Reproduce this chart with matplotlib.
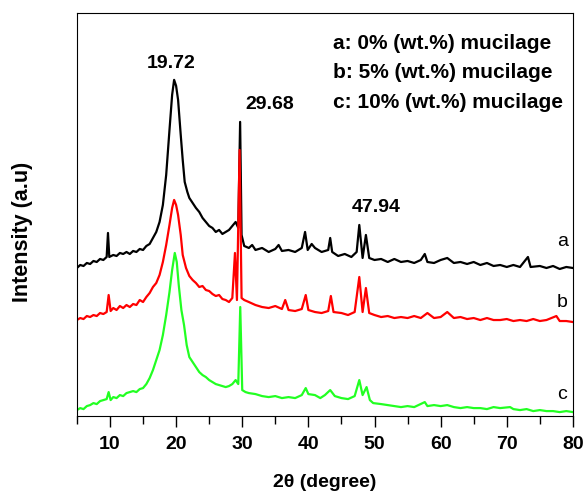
import matplotlib
matplotlib.use("Agg")
import matplotlib.pyplot as plt
from matplotlib.ticker import MultipleLocator

plt.rcParams['font.family'] = ['Liberation Sans', 'DejaVu Sans']

# --- data (intensity in arbitrary units, offsets included) ---
two_theta_a = [5.0, 5.5, 6.0, 6.5, 7.0, 7.5, 8.0, 8.5, 9.0, 9.5,
               9.7, 9.9, 10.5, 11.0, 11.5, 12.0, 12.5, 13.0, 13.5, 14.0,
               14.5, 15.0, 15.5, 16.0, 16.5, 17.0, 17.5, 18.0, 18.5, 19.0,
               19.4, 19.7, 20.0, 20.3, 20.7, 21.0, 21.3, 21.7, 22.0, 22.5,
               23.0, 23.5, 24.0, 24.5, 25.0, 25.5, 26.0, 26.5, 27.0, 27.5,
               28.0, 28.5, 29.0, 29.4, 29.68, 29.9, 30.3, 31.0, 31.5, 32.0,
               33.0, 34.0, 35.0, 35.5, 36.0, 37.0, 38.0, 39.0, 39.5, 39.9,
               40.5, 41.0, 42.0, 43.0, 43.3, 43.6, 44.5, 45.5, 46.5, 47.3,
               47.7, 48.2, 48.7, 49.2, 50.0, 51.0, 52.0, 53.0, 54.0, 55.0,
               56.0, 57.0, 57.6, 58.0, 59.0, 60.0, 61.0, 62.0, 63.0, 64.0,
               65.0, 66.0, 67.0, 68.0, 69.0, 70.0, 71.0, 72.0, 73.2, 73.6,
               75.0, 76.0, 77.0, 78.0, 79.0, 80.0]
intensity_a = [148, 151, 150, 153, 152, 155, 154, 157, 156, 159,
               183, 159, 161, 160, 163, 162, 164, 162, 165, 164,
               167, 166, 170, 172, 178, 184, 194, 211, 241, 286,
               321, 336, 330, 316, 281, 256, 234, 224, 218, 213,
               208, 204, 198, 194, 190, 188, 184, 186, 182, 184,
               186, 190, 194, 188, 294, 181, 170, 168, 171, 166,
               168, 164, 167, 171, 165, 166, 164, 168, 184, 166,
               172, 168, 164, 166, 178, 164, 160, 162, 159, 164,
               191, 158, 181, 158, 156, 157, 154, 157, 154, 155,
               153, 156, 162, 154, 153, 156, 158, 153, 154, 152,
               154, 151, 153, 150, 151, 149, 151, 149, 159, 149,
               150, 148, 150, 147, 149, 148]

two_theta_b = [5.0, 5.5, 6.0, 6.5, 7.0, 7.5, 8.0, 8.5, 9.0, 9.5,
               9.8, 10.1, 10.5, 11.0, 11.5, 12.0, 12.5, 13.0, 13.5, 14.0,
               14.5, 15.0, 15.5, 16.0, 16.5, 17.0, 17.5, 18.0, 18.5, 19.0,
               19.4, 19.7, 20.0, 20.3, 20.7, 21.0, 21.5, 22.0, 22.5, 23.0,
               23.5, 24.0, 24.5, 25.0, 25.5, 26.0, 26.5, 27.0, 27.5, 28.0,
               28.5, 28.9, 29.2, 29.6, 29.9, 30.3, 31.0, 32.0, 33.0, 34.0,
               35.0, 36.0, 36.5, 37.0, 38.0, 39.0, 39.6, 40.0, 41.0, 42.0,
               43.0, 43.4, 43.8, 45.0, 46.0, 47.0, 47.7, 48.2, 48.7, 49.2,
               50.0, 51.0, 52.0, 53.0, 54.0, 55.0, 56.0, 57.0, 58.0, 59.0,
               60.0, 61.0, 62.0, 63.0, 64.0, 65.0, 66.0, 67.0, 68.0, 69.0,
               70.0, 71.0, 72.0, 73.0, 74.0, 75.0, 76.0, 77.5, 78.0, 79.0,
               80.0]
intensity_b = [96, 98, 97, 100, 99, 101, 100, 103, 102, 104,
               121, 105, 108, 106, 110, 108, 111, 109, 112, 111,
               116, 114, 119, 123, 129, 133, 141, 154, 171, 191,
               208, 216, 211, 201, 181, 161, 148, 140, 136, 133,
               129, 130, 126, 125, 122, 120, 121, 117, 116, 114,
               118, 163, 116, 266, 118, 116, 114, 111, 109, 108,
               110, 107, 116, 106, 105, 107, 121, 106, 104, 103,
               105, 120, 104, 103, 101, 104, 139, 104, 128, 103,
               101, 99, 100, 98, 99, 98, 100, 98, 103, 98,
               99, 104, 98, 99, 97, 98, 96, 98, 96, 96,
               97, 95, 96, 95, 97, 95, 96, 100, 95, 95,
               94]

two_theta_c = [5.0, 5.5, 6.0, 6.5, 7.0, 7.5, 8.0, 8.5, 9.0, 9.5,
               9.8, 10.1, 10.5, 11.0, 11.5, 12.0, 12.5, 13.0, 13.5, 14.0,
               14.5, 15.0, 15.5, 16.0, 16.5, 17.0, 17.5, 18.0, 18.5, 19.0,
               19.4, 19.8, 20.1, 20.4, 20.8, 21.2, 21.6, 22.0, 22.5, 23.0,
               23.5, 24.0, 24.5, 25.0, 25.5, 26.0, 26.5, 27.0, 27.5, 28.0,
               28.5, 29.0, 29.4, 29.7, 30.0, 30.5, 31.0, 32.0, 33.0, 34.0,
               35.0, 36.0, 37.0, 38.0, 39.0, 39.6, 40.0, 41.0, 41.8, 42.5,
               43.3, 44.0, 45.0, 46.0, 47.0, 47.7, 48.2, 48.8, 49.3, 49.8,
               51.0, 52.0, 53.0, 54.0, 55.0, 56.0, 57.6, 58.0, 59.0, 60.0,
               61.0, 62.0, 63.0, 64.0, 65.0, 66.0, 67.0, 68.0, 69.0, 70.5,
               71.0, 72.0, 73.0, 74.0, 75.0, 76.0, 77.0, 78.0, 79.0, 80.0]
intensity_c = [6, 8, 7, 10, 11, 13, 12, 15, 16, 17,
               24, 16, 19, 18, 21, 20, 23, 24, 25, 24,
               27, 28, 32, 38, 46, 56, 66, 81, 101, 124,
               146, 163, 154, 131, 106, 91, 71, 59, 54, 49,
               44, 41, 39, 36, 34, 32, 31, 30, 29, 30,
               32, 36, 32, 109, 26, 24, 23, 22, 20, 19,
               20, 18, 19, 18, 21, 28, 22, 21, 18, 21,
               26, 20, 18, 17, 20, 36, 21, 29, 16, 13,
               12, 11, 10, 9, 10, 9, 14, 10, 11, 10,
               11, 9, 8, 9, 8, 8, 7, 9, 8, 9,
               7, 6, 7, 5, 6, 5, 5, 4, 5, 4]

peak_labels = ['19.72', '29.68', '47.94']
peak_label_xy = [(19.2, 352), (34.2, 311), (50.2, 208)]

sample_names = ['a', 'b', 'c']
sample_label_y = [174, 114, 22]
legend_lines = ['a: 0% (wt.%) mucilage',
                'b: 5% (wt.%) mucilage',
                'c: 10% (wt.%) mucilage']

fig = plt.figure(figsize=(5.87, 4.93), dpi=100)
ax = fig.add_axes([0.131, 0.156, 0.845, 0.818])

ax.plot(two_theta_a, intensity_a, color='black', lw=1.6)
ax.plot(two_theta_b, intensity_b, color='#ff0000', lw=1.6)
ax.plot(two_theta_c, intensity_c, color='#22ff22', lw=1.6)

ax.set_xlim(5, 80)
ax.set_ylim(0, 403)

ax.xaxis.set_major_locator(MultipleLocator(10))
ax.xaxis.set_minor_locator(MultipleLocator(5))
ax.tick_params(axis='x', which='major', direction='out', length=8, width=1,
               labelsize=14, pad=6)
ax.tick_params(axis='x', which='minor', direction='out', length=6, width=1)
ax.set_yticks([])
for lab in ax.get_xticklabels():
    lab.set_fontweight('bold')

ax.set_xlabel('2\u03b8 (degree)', fontsize=14, fontweight='bold', va='center')
ax.xaxis.set_label_coords(0.5, -0.164)
ax.set_ylabel('Intensity (a.u)', fontsize=15.5, fontweight='bold', va='center')
ax.yaxis.set_label_coords(-0.11, 0.457)

for txt, (px, py) in zip(peak_labels, peak_label_xy):
    ax.text(px, py, txt, fontsize=14, fontweight='bold', ha='center', va='center')

for name, ly in zip(sample_names, sample_label_y):
    ax.text(78.4, ly, name, fontsize=14, ha='center', va='center')

for i, line in enumerate(legend_lines):
    ax.text(0.516, 0.924 - i * 0.073, line, transform=ax.transAxes,
            fontsize=15, fontweight='bold', ha='left', va='center')

fig.savefig('out.png', dpi=100)
